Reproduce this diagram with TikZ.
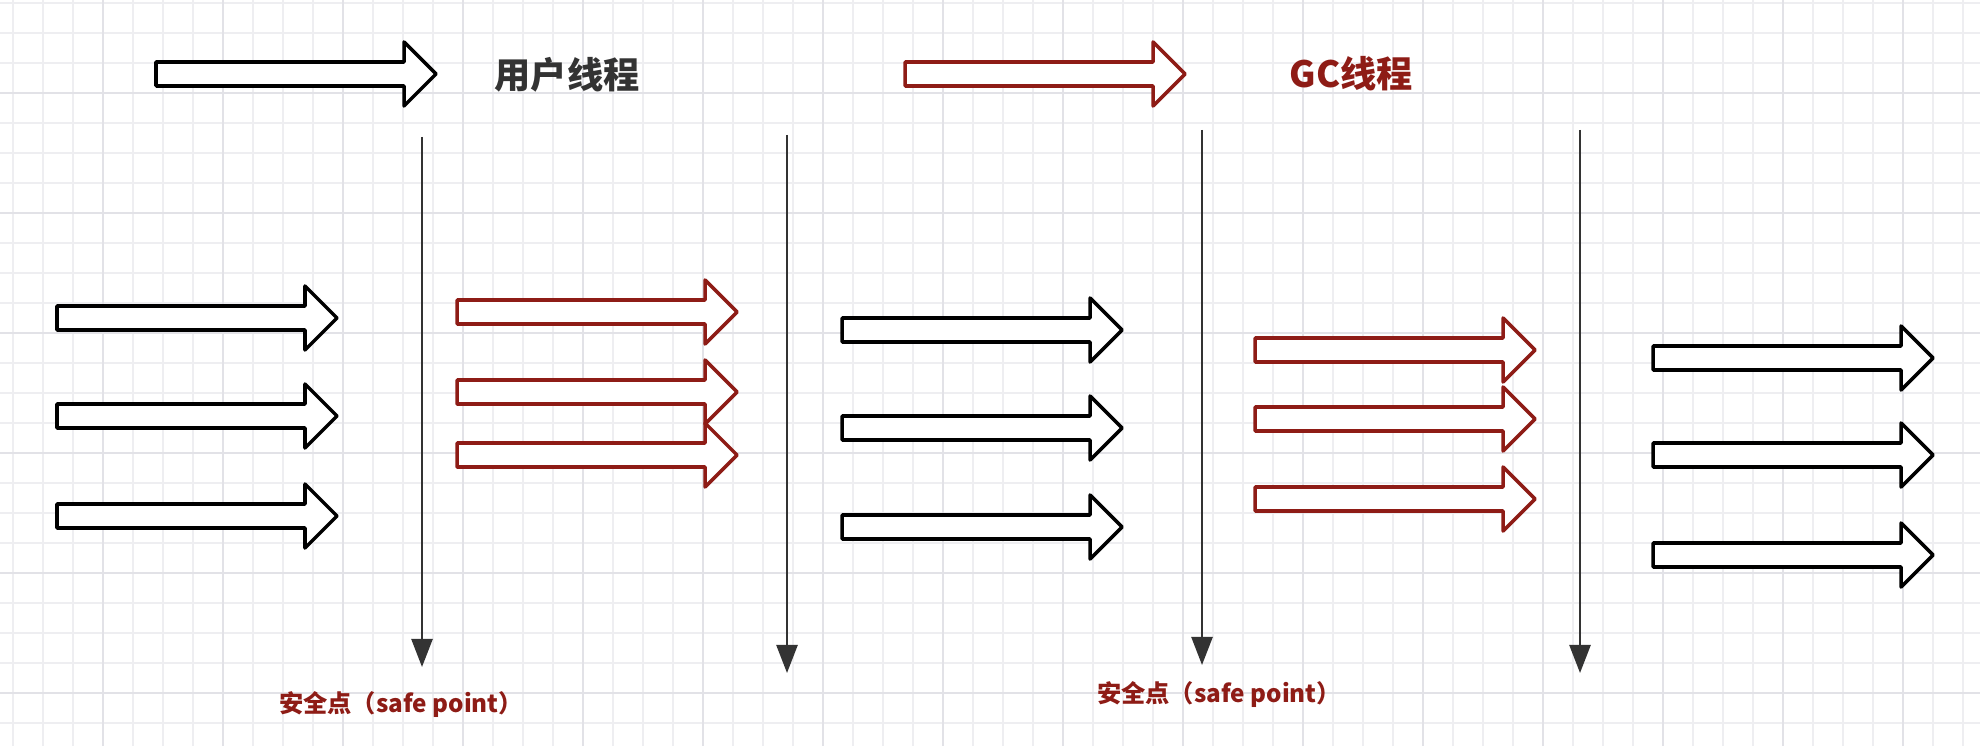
\documentclass[tikz,border=0pt]{standalone}
\usepackage{fontspec}
\setmainfont{Noto Sans CJK SC}
\usetikzlibrary{arrows.meta}

\definecolor{gcred}{RGB}{142,28,22}
\definecolor{ink}{RGB}{51,51,51}
\definecolor{gridminor}{RGB}{238,238,241}
\definecolor{gridmajor}{RGB}{226,226,231}

\tikzset{
  pics/thread/.style={code={
    \draw[pic actions] (0,-12) -- (#1-32,-12) -- (#1-32,-32) -- (#1,0)
      -- (#1-32,32) -- (#1-32,12) -- (0,12) -- cycle;
  }},
  usrthread/.style={draw=black, fill=white, line width=1pt, line join=round},
  gcthread/.style={draw=gcred, fill=white, line width=1pt, line join=round},
  safeline/.style={draw=ink, line width=0.7pt, -{Triangle[length=8pt,width=6pt]}},
  headtext/.style={font=\fontsize{10.3pt}{12pt}\selectfont\bfseries},
  safelabel/.style={font=\fontsize{6.9pt}{8pt}\selectfont\bfseries, text=gcred},
}

\begin{document}
\begin{tikzpicture}[x=0.01cm, y=-0.01cm]
    \fill[white] (0,0) rectangle (1980,746);
    \useasboundingbox (0,0) rectangle (1980,746);

    % 格子
    \foreach \gx in {13,43,...,1973} \draw[gridminor, line width=0.5pt] (\gx,0) -- (\gx,746);
    \foreach \gy in {3,33,...,723} \draw[gridminor, line width=0.5pt] (0,\gy) -- (1980,\gy);
    \foreach \gx in {103,223,...,1903} \draw[gridmajor, line width=0.8pt] (\gx,0) -- (\gx,746);
    \foreach \gy in {93,213,...,693} \draw[gridmajor, line width=0.8pt] (0,\gy) -- (1980,\gy);

    % 凡例
    \pic[usrthread] at (156,74) {thread=280};
    \pic[gcthread] at (905,74) {thread=280};
    \node[headtext, text=ink] (usr) at (567,75) {用户线程};
    \node[headtext, text=gcred] (gc) at (1351,74) {GC线程};

    % スレッドの矢印
    \foreach \y in {318,416,516} \pic[usrthread] at (57,\y) {thread=280};
    \foreach \y in {312,392,455} \pic[gcthread] at (457,\y) {thread=280};
    \foreach \y in {330,428,527} \pic[usrthread] at (842,\y) {thread=280};
    \foreach \y in {350,419,499} \pic[gcthread] at (1255,\y) {thread=280};
    \foreach \y in {358,455,555} \pic[usrthread] at (1653,\y) {thread=280};

    % 線を引く
    \coordinate (sp1a) at (422,137);
    \coordinate (sp1b) at (422,667);
    \coordinate (sp2a) at (787,135);
    \coordinate (sp2b) at (787,673);
    \coordinate (sp3a) at (1202,130);
    \coordinate (sp3b) at (1202,665);
    \coordinate (sp4a) at (1580,130);
    \coordinate (sp4b) at (1580,673);
    \draw[safeline] (sp1a) -- (sp1b);
    \draw[safeline] (sp2a) -- (sp2b);
    \draw[safeline] (sp3a) -- (sp3b);
    \draw[safeline] (sp4a) -- (sp4b);

    % 値を入れる
    \node[safelabel] (safe1) at (401,705) {安全点（safe point）};
    \node[safelabel] (safe2) at (1219,695) {安全点（safe point）};
\end{tikzpicture}
\end{document}
